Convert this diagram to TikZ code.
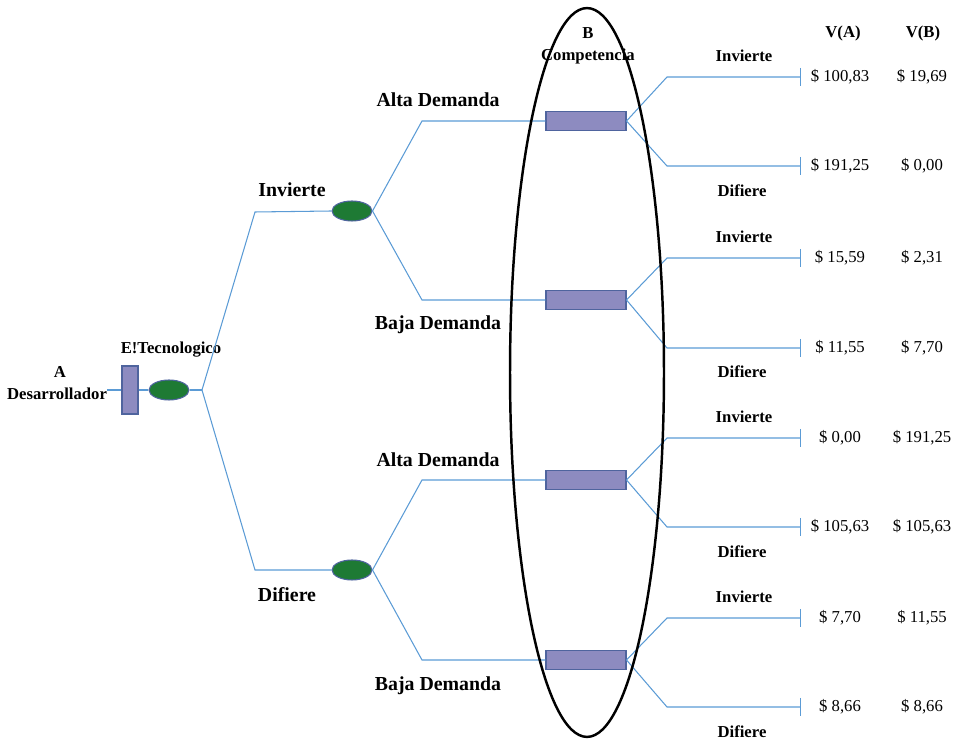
\documentclass[tikz,border=0pt]{standalone}
\usepackage{fontspec}
\setmainfont{Liberation Serif}
\usepackage{tikz}
\usetikzlibrary{shapes.geometric, arrows.meta}
\definecolor{linkblue}{RGB}{91,155,213}
\definecolor{boxfill}{RGB}{141,139,192}
\definecolor{boxdraw}{RGB}{79,100,158}
\definecolor{chancefill}{RGB}{30,122,52}
\tikzstyle{decision} = [rectangle, draw=boxdraw, fill=boxfill, line width=0.6pt, inner sep=0pt]
\tikzstyle{chance} = [ellipse, draw=boxdraw, fill=chancefill, line width=0.6pt, minimum width=0.8cm, minimum height=0.4cm, inner sep=0pt]
\tikzstyle{link} = [draw=linkblue, line width=0.6pt]
\tikzstyle{leaf} = [link, -{Bar[width=3.6mm]}]
\tikzstyle{big} = [font=\fontsize{11.3}{13}\selectfont\bfseries, inner sep=0pt]
\tikzstyle{small} = [font=\fontsize{9.5}{11}\selectfont\bfseries, inner sep=0pt]
\tikzstyle{value} = [font=\fontsize{9.5}{11}\selectfont, inner sep=0pt]

\begin{document}
\begin{tikzpicture}[x=0.02cm, y=-0.02cm]
  \useasboundingbox (0,0) rectangle (958,739);

  \node (lblA) [small] at (60,372) {A};
  \node (lblDes) [small] at (57,394) {Desarrollador};
  \node (dA) [decision, minimum width=0.32cm, minimum height=0.96cm] at (130,390) {};
  \node (eT) [chance] at (169,390) {};
  \node (lblET) [small] at (171,350) {E!Tecnologico};

  \node (c1) [chance] at (352,211) {};
  \node (c2) [chance] at (352,570) {};
  \node (lblInv) [big] at (292,190) {Invierte};
  \node (lblDif) [big] at (287,595) {Difiere};

  \node (r1) [decision, minimum width=1.6cm, minimum height=0.38cm] at (586,121) {};
  \node (r2) [decision, minimum width=1.6cm, minimum height=0.38cm] at (586,300) {};
  \node (r3) [decision, minimum width=1.6cm, minimum height=0.38cm] at (586,480) {};
  \node (r4) [decision, minimum width=1.6cm, minimum height=0.38cm] at (586,660) {};
  \node (lblAlta1) [big] at (438,100) {Alta Demanda};
  \node (lblBaja1) [big] at (438,325) {Baja Demanda};
  \node (lblAlta2) [big] at (438,460) {Alta Demanda};
  \node (lblBaja2) [big] at (438,686) {Baja Demanda};

  \node (lblB) [small] at (588,33) {B};
  \node (lblComp) [small] at (588,56) {Competencia};
  \node (hA) [small] at (843,33) {V(A)};
  \node (hB) [small] at (923,33) {V(B)};

  \coordinate (start) at (107,390);
  \coordinate (s0) at (202,390);
  \coordinate (t1a) at (801,77);
  \coordinate (t1b) at (801,166);
  \coordinate (t2a) at (801,258);
  \coordinate (t2b) at (801,348);
  \coordinate (t3a) at (801,438);
  \coordinate (t3b) at (801,527);
  \coordinate (t4a) at (801,618);
  \coordinate (t4b) at (801,707);

  \draw [link] (start) -- (dA.west);
  \draw [link] (dA.east) -- (eT.west);
  \draw [link] (eT.east) -- (s0);
  \draw [link] (s0) -- (255,212) -- (c1.west);
  \draw [link] (s0) -- (255,570) -- (c2.west);

  \draw [link] (c1.east) -- (422,121) -- (r1.west);
  \draw [link] (c1.east) -- (422,300) -- (r2.west);
  \draw [link] (c2.east) -- (422,480) -- (r3.west);
  \draw [link] (c2.east) -- (422,660) -- (r4.west);

  \draw [leaf] (r1.east) -- (667,77) -- (t1a);
  \draw [leaf] (r1.east) -- (667,166) -- (t1b);
  \draw [leaf] (r2.east) -- (667,258) -- (t2a);
  \draw [leaf] (r2.east) -- (667,348) -- (t2b);
  \draw [leaf] (r3.east) -- (667,438) -- (t3a);
  \draw [leaf] (r3.east) -- (667,527) -- (t3b);
  \draw [leaf] (r4.east) -- (667,618) -- (t4a);
  \draw [leaf] (r4.east) -- (667,707) -- (t4b);

  \node (inv1) [small] at (744,56) {Invierte};
  \node (dif1) [small] at (742,191) {Difiere};
  \node (inv2) [small] at (744,237) {Invierte};
  \node (dif2) [small] at (742,372) {Difiere};
  \node (inv3) [small] at (744,417) {Invierte};
  \node (dif3) [small] at (742,552) {Difiere};
  \node (inv4) [small] at (744,597) {Invierte};
  \node (dif4) [small] at (742,732) {Difiere};

  \node (va1) [value] at (840,77) {\$ 100,83};
  \node (vb1) [value] at (922,77) {\$ 19,69};
  \node (va2) [value] at (840,166) {\$ 191,25};
  \node (vb2) [value] at (922,166) {\$ 0,00};
  \node (va3) [value] at (840,258) {\$ 15,59};
  \node (vb3) [value] at (922,258) {\$ 2,31};
  \node (va4) [value] at (840,348) {\$ 11,55};
  \node (vb4) [value] at (922,348) {\$ 7,70};
  \node (va5) [value] at (840,438) {\$ 0,00};
  \node (vb5) [value] at (922,438) {\$ 191,25};
  \node (va6) [value] at (840,527) {\$ 105,63};
  \node (vb6) [value] at (922,527) {\$ 105,63};
  \node (va7) [value] at (840,618) {\$ 7,70};
  \node (vb7) [value] at (922,618) {\$ 11,55};
  \node (va8) [value] at (840,707) {\$ 8,66};
  \node (vb8) [value] at (922,707) {\$ 8,66};

  \node (grupoB) [ellipse, draw, line width=1.4pt, minimum width=3.08cm, minimum height=14.58cm, inner sep=0pt] at (587,372.5) {};
\end{tikzpicture}
\end{document}
